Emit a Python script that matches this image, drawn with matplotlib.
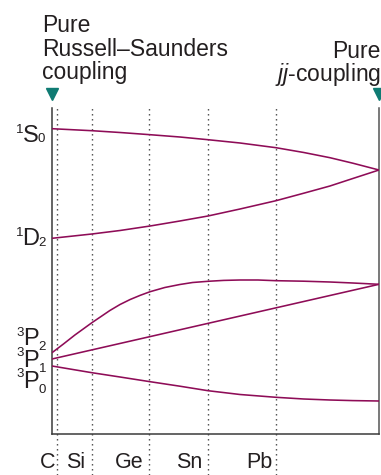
import matplotlib
matplotlib.use("Agg")
import matplotlib.pyplot as plt
from matplotlib.transforms import IdentityTransform

plt.rcParams['font.family'] = ['Liberation Sans', 'DejaVu Sans']
plt.rcParams['mathtext.fontset'] = 'custom'
plt.rcParams['mathtext.rm'] = 'Liberation Sans'
plt.rcParams['mathtext.it'] = 'Liberation Sans:italic'

# ---- data (coupling parameter 0 = pure LS, 1 = pure jj; energy in arbitrary units) ----
elements = ['C', 'Si', 'Ge', 'Sn', 'Pb']
element_x = [0.015, 0.122, 0.297, 0.477, 0.685]

x_1S0 = [0, 0.122, 0.208, 0.300, 0.391, 0.477, 0.575, 0.685, 0.77, 0.850, 0.92, 1.0]
y_1S0 = [305.3, 303.3, 301.5, 299.3, 297.0, 294.3, 291.0, 286.3, 281.5, 276.3, 270.8, 264.0]

x_1D2 = [0, 0.122, 0.208, 0.300, 0.391, 0.477, 0.575, 0.685, 0.77, 0.850, 0.92, 1.0]
y_1D2 = [195.7, 200.0, 203.5, 208.0, 213.0, 218.0, 225.0, 233.3, 240.8, 248.0, 255.5, 264.0]

x_3P2 = [0, 0.035, 0.070, 0.122, 0.150, 0.177, 0.208, 0.239, 0.270, 0.300, 0.345,
         0.391, 0.430, 0.477, 0.525, 0.575, 0.630, 0.685, 0.770, 0.850, 0.920, 1.0]
y_3P2 = [81.3, 90.0, 99.0, 111.3, 117.5, 123.5, 129.5, 134.5, 138.7, 142.3, 146.5,
         149.5, 151.5, 152.7, 153.6, 154.0, 154.0, 153.3, 152.8, 152.0, 151.0, 149.7]

x_3P1 = [0, 1.0]
y_3P1 = [75.0, 149.7]

x_3P0 = [0, 0.122, 0.208, 0.300, 0.391, 0.477, 0.575, 0.685, 0.77, 0.850, 0.92, 1.0]
y_3P0 = [68.0, 61.3, 57.0, 52.3, 47.8, 43.3, 39.5, 36.7, 35.0, 34.0, 33.4, 33.0]

W, H = 381, 475
CURVE = '#8e0c57'
TEAL = '#0f7b73'
TXT = '#231f20'

fig = plt.figure(figsize=(W / 100, H / 100), dpi=100)
ax = fig.add_axes([52 / W, 41 / H, 327 / W, 326 / H])
ax.set_xlim(0, 1)
ax.set_ylim(0, 326)
ax.set_xticks([])
ax.set_yticks([])
ax.patch.set_visible(False)
ax.spines['top'].set_visible(False)
for s in ['left', 'right', 'bottom']:
    ax.spines[s].set_color('#3a3a3a')
    ax.spines[s].set_linewidth(1.1)
ax.spines['right'].set_color('#555555')

# dotted element guides
for ex in element_x:
    ax.axvline(ex, ymin=-41 / 326, ymax=1.0, color='#444444', lw=1.0,
               linestyle=(0, (1, 2.6)), clip_on=False, zorder=1)

# curves
for xs, ys in [(x_1S0, y_1S0), (x_1D2, y_1D2), (x_3P2, y_3P2),
               (x_3P1, y_3P1), (x_3P0, y_3P0)]:
    ax.plot(xs, ys, color=CURVE, lw=1.15, solid_capstyle='round',
            solid_joinstyle='round', zorder=3)

# triangles
ax.plot([0, 1], [340, 340], linestyle='none', marker='v', ms=8.6,
        color=TEAL, clip_on=False, zorder=4)

tr = IdentityTransform()


def put(x, y, s, size, ha='left', **kw):
    fig.text(x, H - y, s, transform=tr, fontsize=size, ha=ha, va='baseline',
             color=TXT, **kw)


# titles
put(42, 31.5, 'Pure', 16.5)
put(42, 55.5, 'Russell\u2013Saunders', 16.5)
put(42, 79.5, 'coupling', 16.5)
put(381, 57.5, 'Pure', 16.5, ha='right')
put(381, 81, r'$\mathit{jj}$-coupling', 16.5, ha='right')

# term labels
BIG, SMALL = 17, 9.5
put(23, 133, '1', SMALL, ha='right'); put(22.5, 142, 'S', BIG); put(38, 142, '0', SMALL)
put(23, 236, '1', SMALL, ha='right'); put(22.5, 245, 'D', BIG); put(38, 246, '2', SMALL)
put(24, 336, '3', SMALL, ha='right'); put(23.5, 345, 'P', BIG); put(38.5, 350, '2', SMALL)
put(24, 356, '3', SMALL, ha='right'); put(23.5, 367, 'P', BIG); put(38.5, 372, '1', SMALL)
put(24, 377, '3', SMALL, ha='right'); put(23.5, 388, 'P', BIG); put(38.5, 393, '0', SMALL)

# element labels
label_right = [55, 85, 144, 202, 273]
for name, xr in zip(elements, label_right):
    put(xr, 468, name, 15.5, ha='right')

fig.savefig('out.png', dpi=100)
